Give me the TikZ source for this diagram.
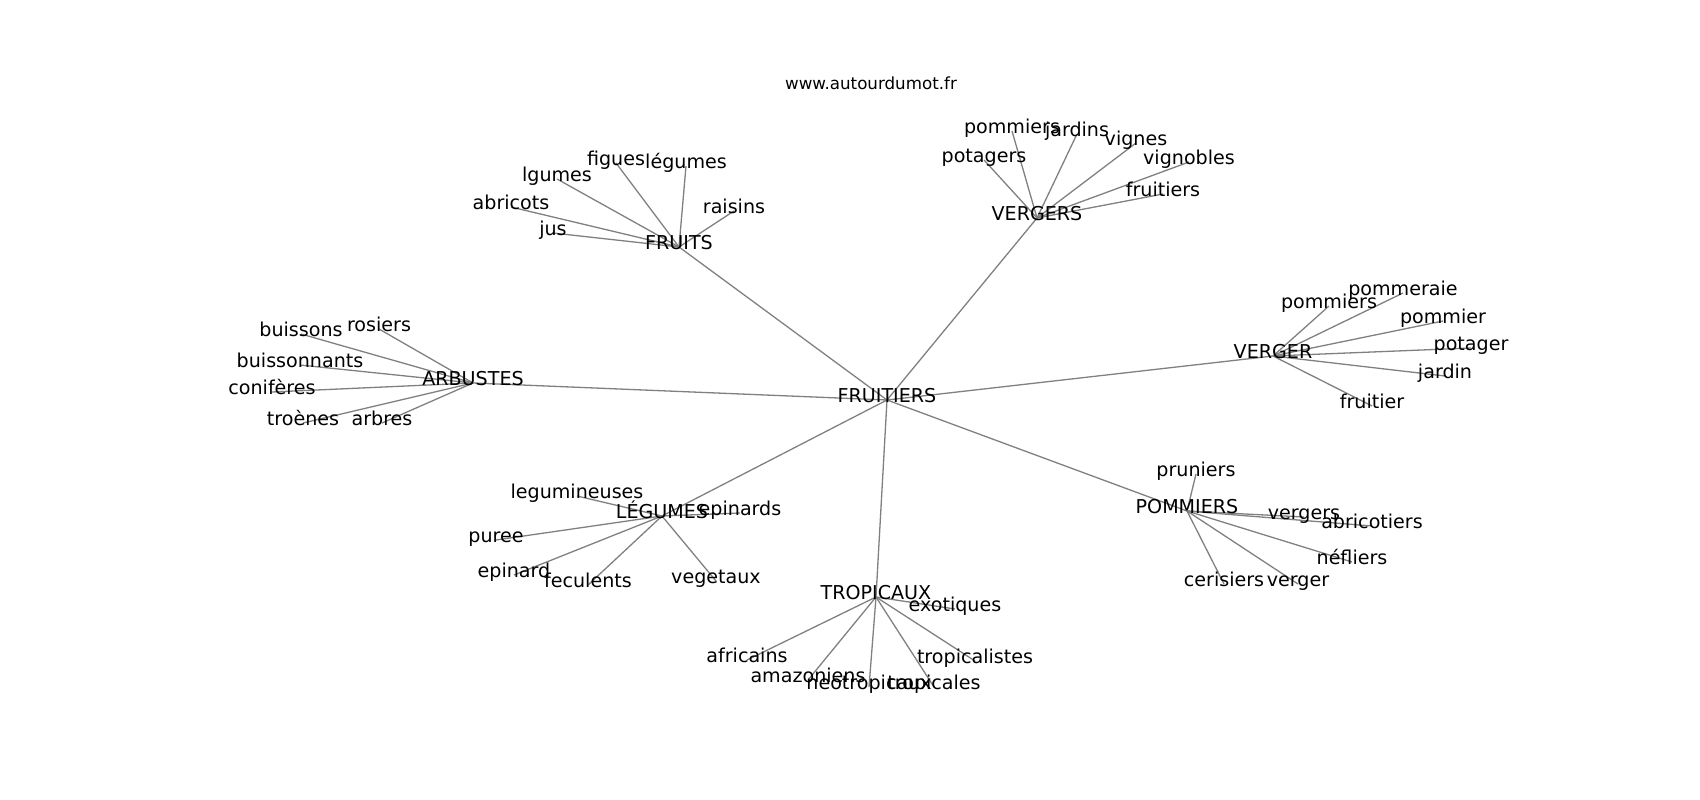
\documentclass[tikz,border=0pt]{standalone}
\usepackage{fontspec}
\setmainfont{DejaVu Sans}
\pgfdeclarelayer{bg}
\pgfsetlayers{bg,main}
\begin{document}
\begin{tikzpicture}[x=1pt,y=-1pt,
  lbl/.style={font=\fontsize{19.1}{22}\selectfont, inner sep=0pt, text height=0.76em, text depth=0.24em, anchor=center},
  ttl/.style={font=\fontsize{16.7}{20}\selectfont, inner sep=0pt, text height=0.76em, text depth=0.24em, anchor=center},
  edge/.style={draw=gray, line width=1.3pt}]
\useasboundingbox (0,0) rectangle (1700,800);
\begin{scope}[shift={(0,4)}]
\node[ttl] (title) at (871,83) {www.autourdumot.fr};
% hubs
\node[lbl] (root) at (887,396) {FRUITIERS};
\node[lbl] (fruits) at (679,243) {FRUITS};
\node[lbl] (vergers) at (1037,214) {VERGERS};
\node[lbl] (verger) at (1273,352) {VERGER};
\node[lbl] (arbustes) at (473,379) {ARBUSTES};
\node[lbl] (legumes) at (662,512) {LÉGUMES};
\node[lbl] (tropicaux) at (876,593) {TROPICAUX};
\node[lbl] (pommiers) at (1187,507) {POMMIERS};
% FRUITS
\node[lbl] (fr1) at (616,159) {figues};
\node[lbl] (fr2) at (686,162) {légumes};
\node[lbl] (fr3) at (557,175) {lgumes};
\node[lbl] (fr4) at (511,203) {abricots};
\node[lbl] (fr5) at (553,229) {jus};
\node[lbl] (fr6) at (734,207) {raisins};
% VERGERS
\node[lbl] (vs1) at (1012,127) {pommiers};
\node[lbl] (vs2) at (1077,130) {jardins};
\node[lbl] (vs3) at (1136,139) {vignes};
\node[lbl] (vs4) at (984,156) {potagers};
\node[lbl] (vs5) at (1189,158) {vignobles};
\node[lbl] (vs6) at (1163,190) {fruitiers};
% VERGER
\node[lbl] (vg1) at (1329,302) {pommiers};
\node[lbl] (vg2) at (1403,289) {pommeraie};
\node[lbl] (vg3) at (1443,317) {pommier};
\node[lbl] (vg4) at (1471,344) {potager};
\node[lbl] (vg5) at (1445,372) {jardin};
\node[lbl] (vg6) at (1372,402) {fruitier};
% ARBUSTES
\node[lbl] (ar1) at (379,325) {rosiers};
\node[lbl] (ar2) at (301,330) {buissons};
\node[lbl] (ar3) at (300,361) {buissonnants};
\node[lbl] (ar4) at (272,388) {conifères};
\node[lbl] (ar5) at (303,419) {troènes};
\node[lbl] (ar6) at (382,419) {arbres};
% LEGUMES
\node[lbl] (lg1) at (577,492) {legumineuses};
\node[lbl] (lg2) at (740,509) {epinards};
\node[lbl] (lg3) at (496,536) {puree};
\node[lbl] (lg4) at (514,571) {epinard};
\node[lbl] (lg5) at (588,581) {feculents};
\node[lbl] (lg6) at (716,577) {vegetaux};
% TROPICAUX
\node[lbl] (tr1) at (955,605) {exotiques};
\node[lbl] (tr2) at (747,656) {africains};
\node[lbl] (tr3) at (808,676) {amazoniens};
\node[lbl] (tr4) at (869,683) {neotropicaux};
\node[lbl] (tr5) at (934,683) {tropicales};
\node[lbl] (tr6) at (975,657) {tropicalistes};
% POMMIERS
\node[lbl] (pm1) at (1196,470) {pruniers};
\node[lbl] (pm2) at (1304,513) {vergers};
\node[lbl] (pm3) at (1372,522) {abricotiers};
\node[lbl] (pm4) at (1352,558) {néfliers};
\node[lbl] (pm5) at (1224,580) {cerisiers};
\node[lbl] (pm6) at (1298,580) {verger};
\begin{pgfonlayer}{bg}
\foreach \h in {fruits,vergers,verger,arbustes,legumes,tropicaux,pommiers}
  \draw[edge] (root.center) -- (\h.center);
\foreach \h/\p in {fruits/fr,vergers/vs,verger/vg,arbustes/ar,legumes/lg,tropicaux/tr,pommiers/pm}
  \foreach \i in {1,...,6}
    \draw[edge] (\h.center) -- (\p\i.center);
\end{pgfonlayer}
\end{scope}
\end{tikzpicture}
\end{document}
